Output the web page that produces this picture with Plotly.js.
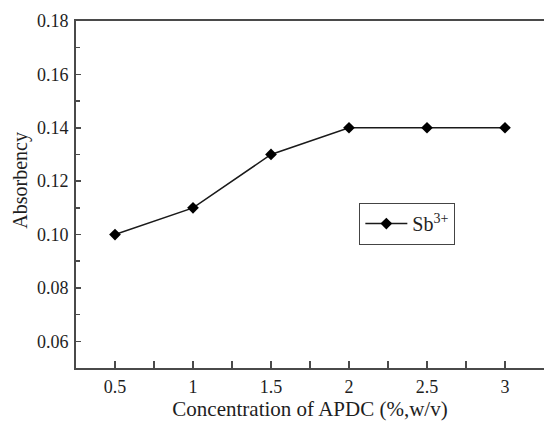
<!DOCTYPE html>
<html>
<head>
<meta charset="utf-8">
<script src="https://cdn.plot.ly/plotly-3.0.1.min.js"></script>
<style>html,body{margin:0;padding:0;background:#fff;}#chart{width:544px;height:421px;}</style>
</head>
<body>
<div id="chart"></div>
<script>
const concentration = [0.5, 1, 1.5, 2, 2.5, 3];
const absorbency = [0.10, 0.11, 0.13, 0.14, 0.14, 0.14];
const seriesName = 'Sb<sup>3+</sup>';
const xTickVals = [0.5, 1, 1.5, 2, 2.5, 3];
const xTickText = ['0.5', '1', '1.5', '2', '2.5', '3'];
const yTickVals = [0.06, 0.08, 0.10, 0.12, 0.14, 0.16, 0.18];
const yTickText = ['0.06', '0.08', '0.10', '0.12', '0.14', '0.16', '0.18'];

const fontFam = 'Liberation Serif, Times New Roman, serif';
const axisColor = '#4a4a4a';
const textColor = '#1e1e1e';

const trace = {
  x: concentration,
  y: absorbency,
  name: seriesName,
  type: 'scatter',
  mode: 'lines+markers',
  line: {color: '#1a1a1a', width: 1.5},
  marker: {symbol: 'diamond', size: 9, color: '#000'},
  showlegend: true
};

const layout = {
  width: 544,
  height: 421,
  margin: {l: 76, r: 0, t: 21, b: 52.5},
  paper_bgcolor: '#fff',
  plot_bgcolor: '#fff',
  font: {family: fontFam, color: textColor, size: 18},
  showlegend: true,
  legend: {
    x: 0.605, y: 0.476, xanchor: 'left', yanchor: 'top',
    bordercolor: '#444', borderwidth: 1.2, bgcolor: '#fff',
    font: {family: fontFam, size: 20, color: textColor},
    itemwidth: 42,
    tracegroupgap: 0
  },
  xaxis: {
    range: [0.25, 3.25],
    tickmode: 'array', tickvals: xTickVals, ticktext: xTickText,
    ticks: 'inside', ticklen: 7, tickwidth: 1.5, tickcolor: axisColor,
    minor: {dtick: 0.25, tick0: 0.25, ticks: 'inside', ticklen: 7, tickwidth: 1.5, tickcolor: axisColor, showgrid: false},
    showline: true, linecolor: axisColor, linewidth: 2, mirror: true,
    showgrid: false, zeroline: false,
    tickfont: {family: fontFam, size: 18, color: textColor},
    ticklabelstandoff: 1,
    title: {text: 'Concentration of APDC (%,w/v)', font: {family: fontFam, size: 21, color: textColor}, standoff: 5}
  },
  yaxis: {
    range: [0.05, 0.18],
    tickmode: 'array', tickvals: yTickVals, ticktext: yTickText,
    ticks: 'inside', ticklen: 5, tickwidth: 1.5, tickcolor: axisColor,
    minor: {dtick: 0.01, tick0: 0.05, ticks: 'inside', ticklen: 4, tickwidth: 1.5, tickcolor: axisColor, showgrid: false},
    showline: true, linecolor: axisColor, linewidth: 2, mirror: false,
    showgrid: false, zeroline: false,
    tickfont: {family: fontFam, size: 18, color: textColor},
    ticklabelstandoff: 2
  },
  annotations: [{
    text: 'Absorbency', xref: 'paper', yref: 'paper',
    x: -0.118, y: 0.542, xanchor: 'center', yanchor: 'middle',
    textangle: -90, showarrow: false,
    font: {family: fontFam, size: 20, color: textColor}
  }]
};

Plotly.newPlot('chart', [trace], layout, {displayModeBar: false, staticPlot: true});
</script>
</body>
</html>
